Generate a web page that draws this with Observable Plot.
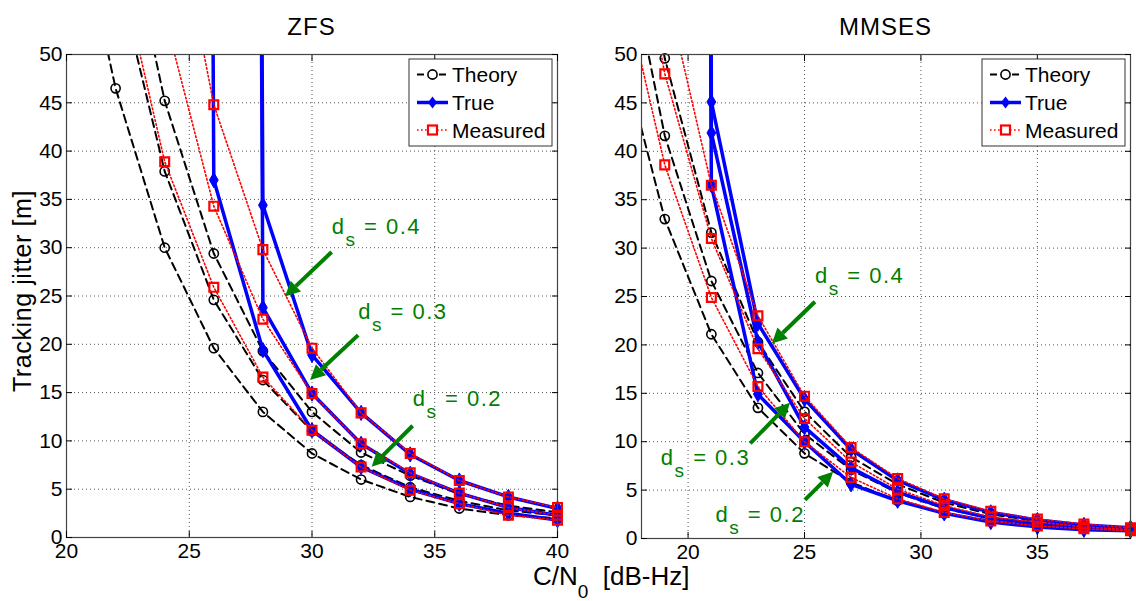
<!DOCTYPE html>
<html><head><meta charset="utf-8">
<script src="https://cdn.jsdelivr.net/npm/d3@7"></script>
<script src="https://cdn.jsdelivr.net/npm/@observablehq/plot@0.6"></script>
<style>
body{margin:0;background:#fff;}
#wrap{position:relative;width:1136px;height:601px;overflow:hidden;background:#fff;}
#wrap svg{position:absolute;top:0;}
</style></head><body><div id="wrap"></div>
<script>
// ---------------- DATA ----------------
// ZFS panel (C/N0 in dB-Hz); values > 50 lie above the plotted range
const zfsCN0 = [20, 22, 24, 26, 28, 30, 32, 34, 36, 38, 40];
const zfsTheory02 = [70, 46.5, 30.0, 19.6, 13.0, 8.7, 6.0, 4.2, 3.0, 2.3, 2.0];
const zfsTheory03 = [null, 59, 37.9, 24.6, 16.3, 11.0, 7.5, 5.2, 3.8, 2.8, 2.3];
const zfsTheory04 = [null, 69, 45.2, 29.4, 19.3, 13.0, 8.8, 6.4, 4.5, 3.3, 2.6];
const zfsTrue02 = [null, null, 1000, 37.0, 19.4, 11.1, 7.3, 5.0, 3.5, 2.5, 1.8];
const zfsTrue03 = [null, null, null, 1000, 23.8, 14.9, 9.7, 6.6, 4.6, 3.1, 2.3];
const zfsTrue04 = [null, null, null, 1000, 34.4, 18.9, 12.9, 8.6, 5.9, 4.2, 3.0];
const zfsMeas02 = [null, 61, 38.9, 25.9, 16.6, 11.1, 7.3, 4.9, 3.5, 2.3, 1.8];
const zfsMeas03 = [null, null, 54, 34.3, 22.6, 14.9, 9.7, 6.7, 4.6, 3.1, 2.3];
const zfsMeas04 = [null, null, 71, 44.8, 29.8, 19.6, 12.9, 8.7, 5.9, 4.2, 3.1];

// MMSES panel
const mmsesCN0 = [17, 19, 21, 23, 25, 27, 29, 31, 33, 35, 37, 39];
const mmsesTheory02 = [51.6, 33.0, 21.1, 13.5, 8.8, 5.8, 3.9, 2.6, 1.8, 1.3, 1.0, 0.8];
const mmsesTheory03 = [65.6, 41.6, 26.6, 17.1, 10.8, 7.1, 4.7, 3.1, 2.1, 1.6, 1.2, 0.9];
const mmsesTheory04 = [78, 49.6, 31.6, 20.3, 13.1, 8.4, 5.6, 3.7, 2.5, 1.8, 1.3, 1.0];
const mmsesTrue02 = [null, 1000, 36.5, 14.9, 10.0, 5.6, 3.9, 2.6, 1.7, 1.2, 0.9, 0.8];
const mmsesTrue03 = [null, 1000, 41.9, 20.3, 11.5, 7.3, 4.8, 3.2, 2.1, 1.5, 1.1, 0.9];
const mmsesTrue04 = [null, 1000, 45.1, 22.2, 14.4, 9.2, 6.0, 4.0, 2.7, 1.9, 1.4, 1.1];
const mmsesMeas02 = [59.4, 38.6, 24.9, 15.7, 10.0, 6.3, 4.1, 2.7, 1.8, 1.3, 1.0, 0.8];
const mmsesMeas03 = [74, 48.0, 31.0, 19.6, 12.4, 7.9, 5.1, 3.4, 2.2, 1.7, 1.2, 0.9];
const mmsesMeas04 = [null, 57.3, 36.5, 23.0, 14.7, 9.4, 6.2, 4.1, 2.8, 2.0, 1.5, 1.1];

// ticks and labels
const zfsXTicks = [20, 25, 30, 35, 40];
const mmsesXTicks = [20, 25, 30, 35];
const yTicks = [0, 5, 10, 15, 20, 25, 30, 35, 40, 45, 50];
const panelTitles = ["ZFS", "MMSES"];
const legendLabels = ["Theory", "True", "Measured"];
const yLabel = "Tracking jitter [m]";
const annValues = ["0.4", "0.3", "0.2"];

// annotation anchors (data coordinates): text start, arrow tail, arrow tip
const zfsAnn = [
  {t: [30.82, 31.4], from: [30.82, 29.5], to: [28.92, 24.9]},
  {t: [31.9, 22.6], from: [31.9, 20.9], to: [29.94, 16.25]},
  {t: [34.12, 13.6], from: [34.12, 11.52], to: [32.45, 7.28]}
];
const mmsesAnn = [
  {t: [25.47, 26.3], from: [25.47, 24.4], to: [23.62, 20.1]},
  {t: [18.85, 7.54], from: [22.69, 9.78], to: [24.40, 13.98]},
  {t: [21.2, 1.68], from: [25.04, 3.93], to: [26.25, 6.85]}
];

// ---------------- DRAWING ----------------
const FONT = '"Liberation Sans", Arial, Helvetica, sans-serif';
const GREEN = "#008000";
const wrap = document.getElementById("wrap");

function rows(xs, vals, s) {
  return vals.map((v, i) => ({x: xs[i], y: v, s})).filter(d => d.y != null);
}

function panel({xs, theory, tru, meas, xDomain, xTicks, left, width, mL, mR, mB}) {
  const th = theory.flatMap((v, k) => rows(xs, v, "t" + k));
  const tr = tru.flatMap((v, k) => rows(xs, v, "r" + k));
  const me = meas.flatMap((v, k) => rows(xs, v, "m" + k));
  const inView = d => d.y <= 50 && d.x >= xDomain[0] && d.x <= xDomain[1];
  const chart = Plot.plot({
    width, height: 601,
    marginLeft: mL, marginRight: mR, marginTop: 54, marginBottom: mB,
    style: {fontFamily: FONT, fontSize: "21px", color: "#000", background: "transparent", overflow: "visible"},
    x: {domain: xDomain, label: null},
    y: {domain: [0, 50], label: null},
    marks: [
      Plot.gridX(xTicks, {stroke: "#555", strokeOpacity: 1, strokeDasharray: "1,3"}),
      Plot.gridY(yTicks, {stroke: "#555", strokeOpacity: 1, strokeDasharray: "1,3"}),
      Plot.line(th, {x: "x", y: "y", z: "s", stroke: "#000", strokeWidth: 2, strokeDasharray: "8,5", clip: true}),
      Plot.dot(th.filter(inView), {x: "x", y: "y", symbol: "circle", r: 4.6, stroke: "#000", strokeWidth: 1.6, fill: "none"}),
      Plot.line(tr, {x: "x", y: "y", z: "s", stroke: "#0000ff", strokeWidth: 3.5, clip: true}),
      Plot.dot(tr.filter(inView), {x: "x", y: "y", symbol: "diamond", r: 4.6, fill: "#0000ff", stroke: "#0000ff", strokeWidth: 1}),
      Plot.line(me, {x: "x", y: "y", z: "s", stroke: "#ff0000", strokeWidth: 1.6, strokeDasharray: "1.6,2.4", clip: true}),
      Plot.dot(me.filter(inView), {x: "x", y: "y", symbol: "square", r: 5, stroke: "#ff0000", strokeWidth: 2.2, fill: "none"}),
      Plot.frame({stroke: "#444", strokeWidth: 1.2}),
      Plot.axisX(xTicks, {anchor: "bottom", tickSize: -6, tickPadding: 12, fontSize: 21, label: null}),
      Plot.axisX(xTicks, {anchor: "top", tickSize: -6, tickFormat: () => "", label: null}),
      Plot.axisY(yTicks, {anchor: "left", tickSize: -6, tickPadding: 10, fontSize: 21, label: null}),
      Plot.axisY(yTicks, {anchor: "right", tickSize: -6, tickFormat: () => "", label: null})
    ]
  });
  chart.style.left = left + "px";
  wrap.appendChild(chart);
  const sx = chart.scale("x"), sy = chart.scale("y");
  const fx = d3.scaleLinear(sx.domain, sx.range), fy = d3.scaleLinear(sy.domain, sy.range);
  return {
    X: v => left + fx(v), Y: v => fy(v),
    frameL: left + sx.range[0], frameR: left + sx.range[1],
    frameT: sy.range[1], frameB: sy.range[0]
  };
}

const P1 = panel({
  xs: zfsCN0, theory: [zfsTheory02, zfsTheory03, zfsTheory04],
  tru: [zfsTrue02, zfsTrue03, zfsTrue04], meas: [zfsMeas02, zfsMeas03, zfsMeas04],
  xDomain: [20, 40], xTicks: zfsXTicks, left: 0, width: 562, mL: 66, mR: 5, mB: 64
});
const P2 = panel({
  xs: mmsesCN0, theory: [mmsesTheory02, mmsesTheory03, mmsesTheory04],
  tru: [mmsesTrue02, mmsesTrue03, mmsesTrue04], meas: [mmsesMeas02, mmsesMeas03, mmsesMeas04],
  xDomain: [18, 39], xTicks: mmsesXTicks, left: 575, width: 561, mL: 66, mR: 6, mB: 63
});

// overlay for titles, labels, legends, annotations
const ov = d3.select(wrap).append("svg")
  .attr("width", 1136).attr("height", 601)
  .style("left", "0px").style("pointer-events", "none")
  .style("font-family", FONT);

[P1, P2].forEach((P, i) => {
  ov.append("text").attr("x", (P.frameL + P.frameR) / 2).attr("y", 35)
    .attr("text-anchor", "middle").attr("font-size", 24).attr("letter-spacing", 1)
    .attr("fill", "#000").text(panelTitles[i]);
});

// y label
ov.append("text").attr("transform", "translate(31,291) rotate(-90)")
  .attr("text-anchor", "middle").attr("font-size", 25).attr("letter-spacing", 0.6)
  .attr("fill", "#000").text(yLabel);

// x label C/N0 [dB-Hz]
const xl = ov.append("text").attr("x", 533).attr("y", 585).attr("font-size", 26).attr("fill", "#000");
xl.append("tspan").text("C/N");
xl.append("tspan").attr("font-size", 19).attr("dy", 13).text("0");
xl.append("tspan").attr("dy", -13).attr("xml:space", "preserve").text("\u00a0\u00a0[dB-Hz]");

// legends
[P1, P2].forEach(P => {
  const bx = P.frameR - 148, by = 59, bw = 143, bh = 87;
  const g = ov.append("g");
  g.append("rect").attr("x", bx).attr("y", by).attr("width", bw).attr("height", bh)
    .attr("fill", "#fff").attr("stroke", "#333").attr("stroke-width", 1);
  const rowsY = [74.5, 102.5, 130];
  const styles = [
    {stroke: "#000", w: 2, dash: "7,4"},
    {stroke: "#0000ff", w: 3.5, dash: null},
    {stroke: "#ff0000", w: 1.6, dash: "1.6,2.4"}
  ];
  legendLabels.forEach((lab, k) => {
    const y = rowsY[k], s = styles[k], x0 = bx + 8, x1 = bx + 39, cx = bx + 23.5;
    g.append("line").attr("x1", x0).attr("x2", x1).attr("y1", y).attr("y2", y)
      .attr("stroke", s.stroke).attr("stroke-width", s.w).attr("stroke-dasharray", s.dash);
    if (k === 0) g.append("circle").attr("cx", cx).attr("cy", y).attr("r", 4.6)
      .attr("fill", "#fff").attr("stroke", "#000").attr("stroke-width", 1.6);
    if (k === 1) g.append("path").attr("d", `M${cx},${y - 6}L${cx + 4.5},${y}L${cx},${y + 6}L${cx - 4.5},${y}Z`)
      .attr("fill", "#0000ff");
    if (k === 2) g.append("rect").attr("x", cx - 4.5).attr("y", y - 4.5).attr("width", 9).attr("height", 9)
      .attr("fill", "#fff").attr("stroke", "#ff0000").attr("stroke-width", 2.2);
    g.append("text").attr("x", bx + 43).attr("y", y + 7.5).attr("font-size", 21).attr("fill", "#000").text(lab);
  });
});

// annotations
function annotate(P, anns) {
  anns.forEach((a, k) => {
    const t = ov.append("text").attr("x", P.X(a.t[0])).attr("y", P.Y(a.t[1]))
      .attr("fill", GREEN).attr("font-size", 22).attr("letter-spacing", 1.5);
    t.append("tspan").text("d");
    t.append("tspan").attr("font-size", 19).attr("dy", 12).text("s");
    t.append("tspan").attr("dy", -12).text("\u00a0= " + annValues[k]);
    const x1 = P.X(a.from[0]), y1 = P.Y(a.from[1]), x2 = P.X(a.to[0]), y2 = P.Y(a.to[1]);
    const dx = x2 - x1, dy = y2 - y1, L = Math.hypot(dx, dy), ux = dx / L, uy = dy / L;
    const hl = 15, hw = 7.5;
    const bxp = x2 - ux * hl, byp = y2 - uy * hl;
    ov.append("line").attr("x1", x1).attr("y1", y1).attr("x2", bxp).attr("y2", byp)
      .attr("stroke", GREEN).attr("stroke-width", 4);
    ov.append("path")
      .attr("d", `M${x2},${y2}L${bxp - uy * hw},${byp + ux * hw}L${bxp + uy * hw},${byp - ux * hw}Z`)
      .attr("fill", GREEN);
  });
}
annotate(P1, zfsAnn);
annotate(P2, mmsesAnn);
</script>
</body></html>
